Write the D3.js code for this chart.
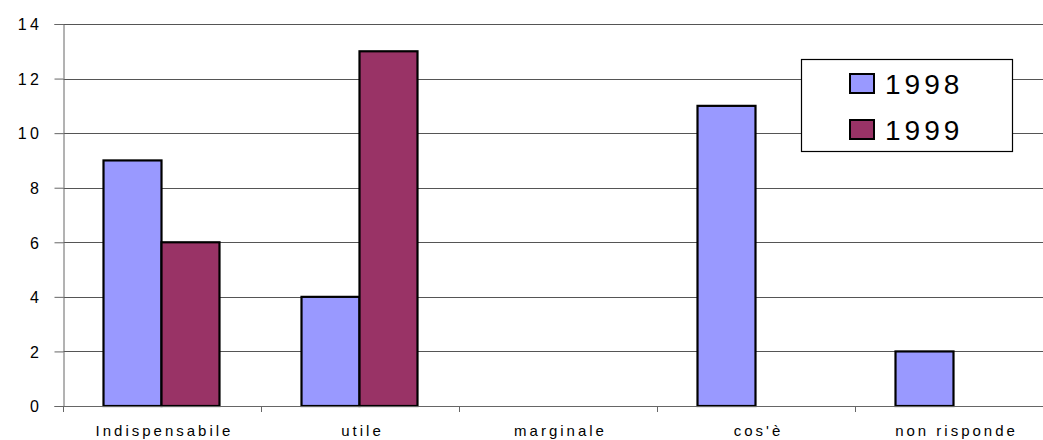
<!DOCTYPE html>
<html>
<head>
<meta charset="utf-8">
<script src="https://cdn.jsdelivr.net/npm/d3@7"></script>
<style>
  html, body { margin: 0; padding: 0; background: #fff; }
  svg { display: block; font-family: "Liberation Sans", Arial, sans-serif; }
</style>
</head>
<body>
<svg id="chart" width="1043" height="440"></svg>
<script>
// Categories and yearly values
const categories = ["Indispensabile", "utile", "marginale", "cos'è", "non risponde"];
const seriesNames = ["1998", "1999"];
const values1998 = [9, 4, 0, 11, 2];
const values1999 = [6, 13, 0, 0, 0];
const yTicks = [0, 2, 4, 6, 8, 10, 12, 14];
const colors = ["#9999FF", "#993366"];

const svg = d3.select("#chart");
const plotLeft = 63.5, bandW = 198, plotTop = 24, plotBottom = 406;
const plotRight = plotLeft + bandW * categories.length;

const x = d3.scaleBand().domain(categories).range([plotLeft, plotRight]).paddingInner(0).paddingOuter(0);
const inner = d3.scaleBand().domain(seriesNames).range([0, bandW]).paddingInner(0).paddingOuter(0.707);
const y = d3.scaleLinear().domain([0, 14]).range([plotBottom, plotTop]);

// gridlines
svg.append("g").selectAll("line").data(yTicks.filter(d => d > 0)).join("line")
  .attr("x1", plotLeft).attr("x2", 1043)
  .attr("y1", d => Math.round(y(d)) + 0.5).attr("y2", d => Math.round(y(d)) + 0.5)
  .attr("stroke", "#555").attr("stroke-width", 1);

// y axis
const yAxis = svg.append("g").attr("transform", `translate(${plotLeft},0)`)
  .call(d3.axisLeft(y).tickValues(yTicks).tickSize(9).tickPadding(12).tickFormat(d3.format("d")));
yAxis.attr("font-size", null).attr("font-family", null);
yAxis.select(".domain").attr("stroke", "#666");
yAxis.selectAll(".tick line").attr("stroke", "#666");
yAxis.selectAll(".tick text").style("font-size", "16px").attr("letter-spacing", 3.5)
  .attr("fill", "#000").attr("dy", "0.36em");

// bars
const rows = categories.map((c, i) => ({ c, vals: [values1998[i], values1999[i]] }));
const groups = svg.append("g").selectAll("g").data(rows).join("g")
  .attr("transform", d => `translate(${x(d.c) - 1},0)`);
groups.selectAll("rect").data(d => d.vals.map((v, k) => ({ v, k })).filter(e => e.v > 0)).join("rect")
  .attr("x", e => inner(seriesNames[e.k]))
  .attr("width", inner.bandwidth())
  .attr("y", e => y(e.v))
  .attr("height", e => y(0) - y(e.v))
  .attr("fill", e => colors[e.k])
  .attr("stroke", "#000").attr("stroke-width", 2.2);

// x axis
const xTickPos = d3.range(categories.length + 1).map(i => plotLeft + i * bandW);
const xAxis = svg.append("g");
xAxis.append("line").attr("x1", plotLeft).attr("x2", 1043).attr("y1", plotBottom + 0.5).attr("y2", plotBottom + 0.5)
  .attr("stroke", "#666");
xAxis.selectAll(".xt").data(xTickPos).join("line").attr("class", "xt")
  .attr("x1", d => d).attr("x2", d => d).attr("y1", plotBottom).attr("y2", plotBottom + 6)
  .attr("stroke", "#666");
xAxis.selectAll("text").data(categories).join("text")
  .attr("x", d => x(d) + x.bandwidth() / 2 + 2).attr("y", 436)
  .attr("text-anchor", "middle").style("font-size", "15px").attr("letter-spacing", 3)
  .attr("fill", "#000").text(d => d);

// legend
const lg = svg.append("g").attr("transform", "translate(801,59)");
lg.append("rect").attr("x", 0.5).attr("y", 0.5).attr("width", 211).attr("height", 92)
  .attr("fill", "#fff").attr("stroke", "#000").attr("stroke-width", 1.2);
const items = lg.selectAll(".item").data(seriesNames).join("g").attr("class", "item")
  .attr("transform", (d, i) => `translate(0,${14 + i * 46})`);
items.append("rect").attr("x", 49).attr("y", 1).attr("width", 24).attr("height", 19)
  .attr("fill", (d, i) => colors[i]).attr("stroke", "#000").attr("stroke-width", 2);
items.append("text").attr("x", 84).attr("y", 21).style("font-size", "28px").attr("letter-spacing", 4)
  .attr("fill", "#000").text(d => d);
</script>
</body>
</html>
